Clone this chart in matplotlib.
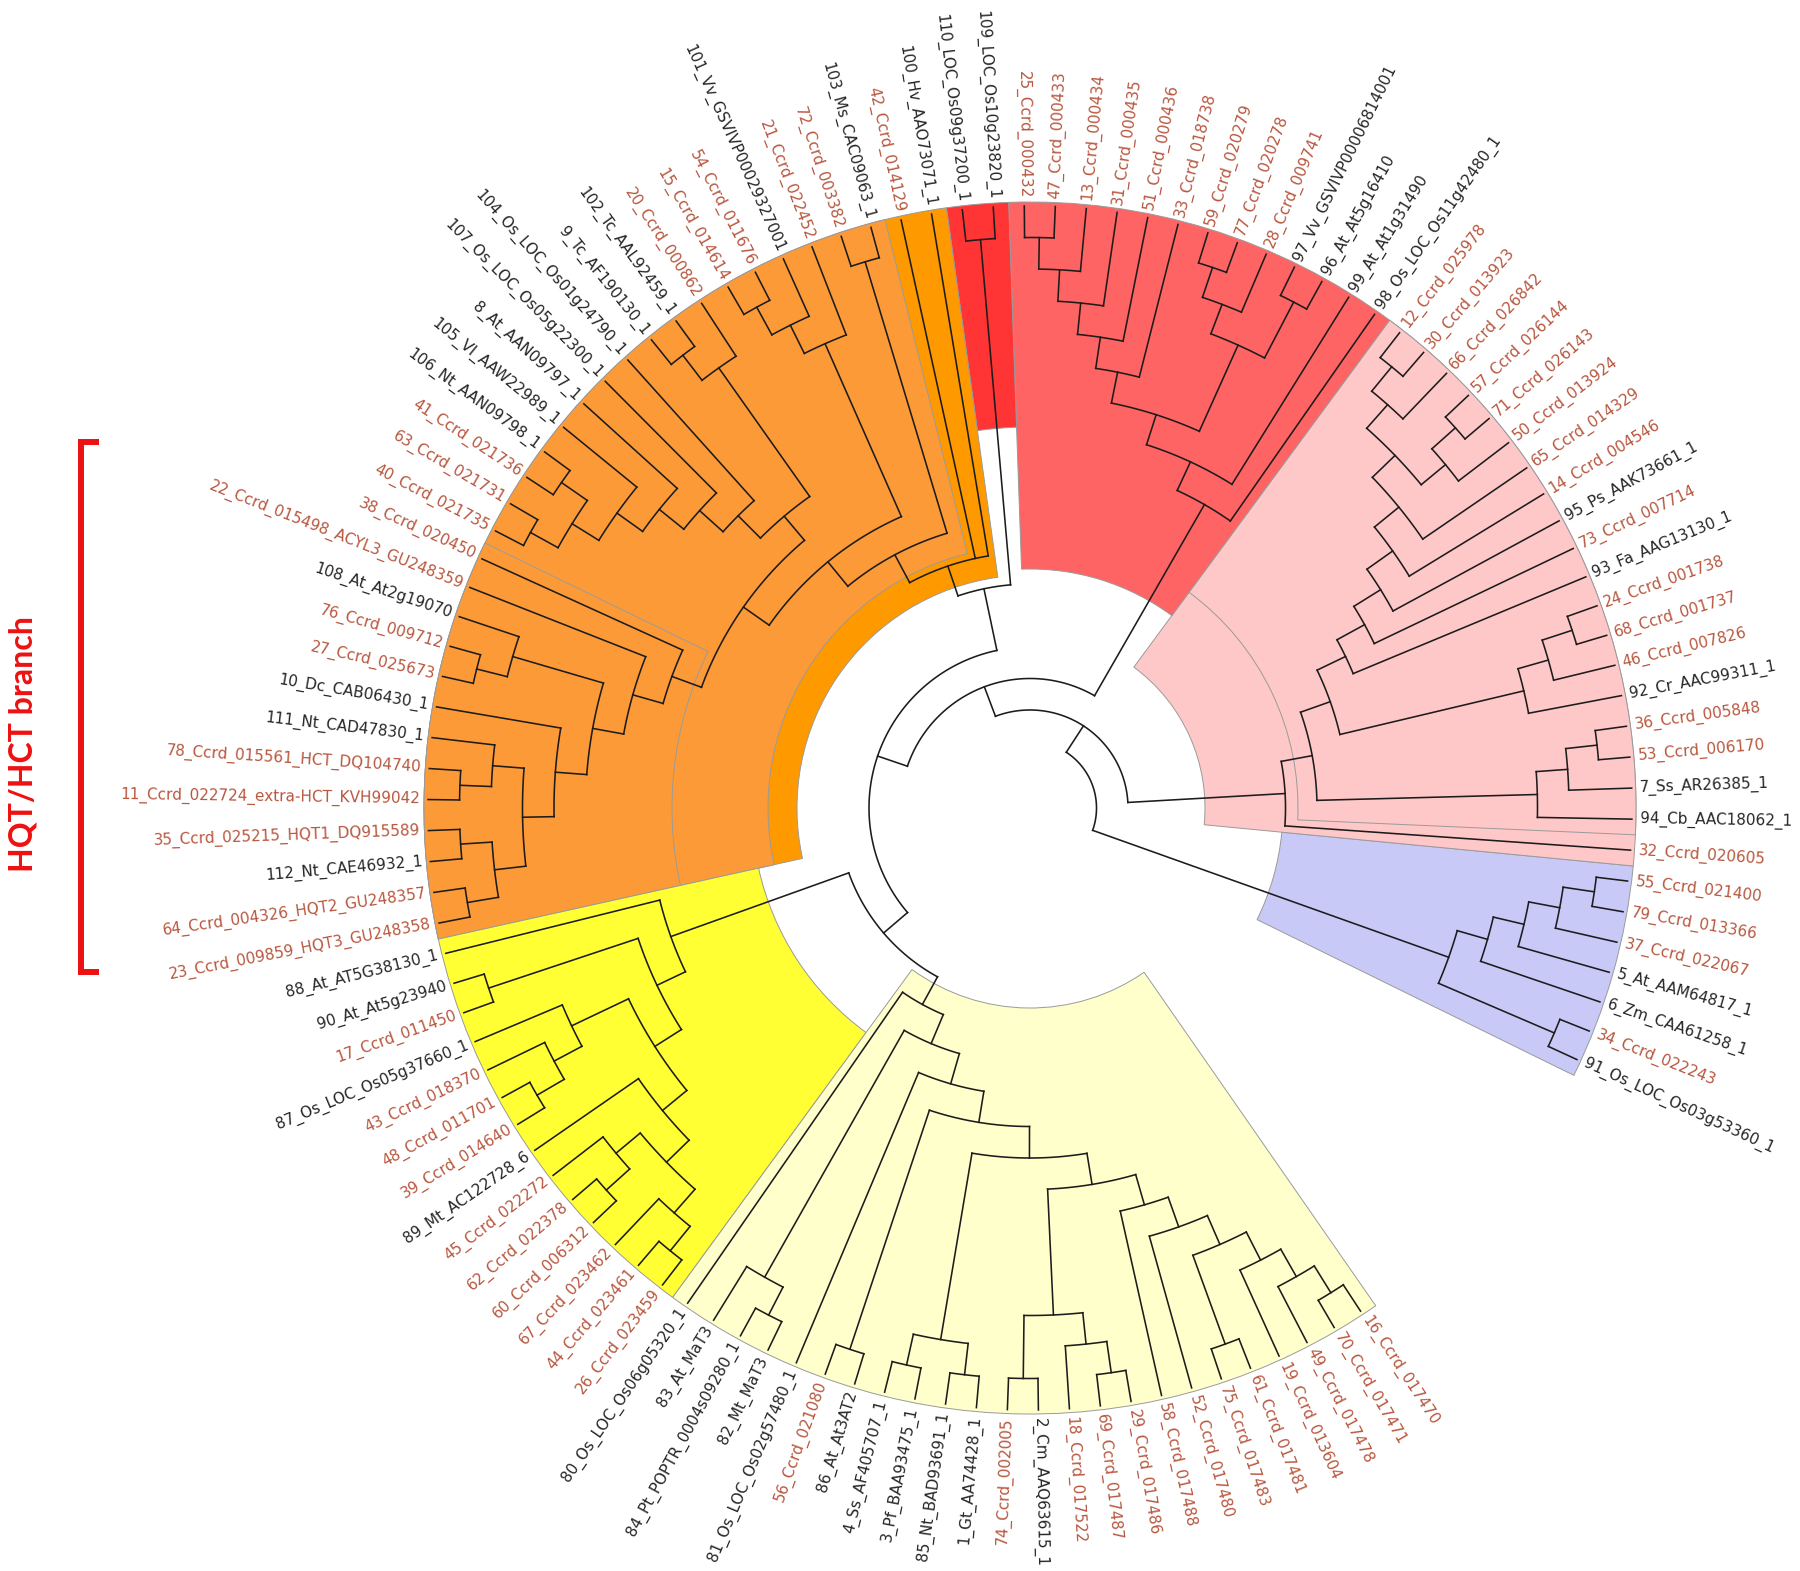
import numpy as np
import matplotlib
matplotlib.use("Agg")
import matplotlib.pyplot as plt
from matplotlib.collections import LineCollection

# ---------------- data ----------------
# leaf labels in angular order (counter-clockwise, starting at the lower right)
BLUE_LEAVES = ["91_Os_LOC_Os03g53360_1", "34_Ccrd_022243", "6_Zm_CAA61258_1", "5_At_AAM64817_1",
               "37_Ccrd_022067", "79_Ccrd_013366", "55_Ccrd_021400"]
PINK_LEAVES = ["32_Ccrd_020605", "94_Cb_AAC18062_1", "7_Ss_AR26385_1", "53_Ccrd_006170", "36_Ccrd_005848",
               "92_Cr_AAC99311_1", "46_Ccrd_007826", "68_Ccrd_001737", "24_Ccrd_001738", "93_Fa_AAG13130_1",
               "73_Ccrd_007714", "95_Ps_AAK73661_1", "14_Ccrd_004546", "65_Ccrd_014329", "50_Ccrd_013924",
               "71_Ccrd_026143", "57_Ccrd_026144", "66_Ccrd_026842", "30_Ccrd_013923", "12_Ccrd_025978"]
RED_LEAVES = ["98_Os_LOC_Os11g42480_1", "99_At_At1g31490", "96_At_At5g16410", "97_Vv_GSVIVP00006814001",
              "28_Ccrd_009741", "77_Ccrd_020278", "59_Ccrd_020279", "33_Ccrd_018738", "51_Ccrd_000436",
              "31_Ccrd_000435", "13_Ccrd_000434", "47_Ccrd_000433", "25_Ccrd_000432"]
RED2_LEAVES = ["109_LOC_Os10g23820_1", "110_LOC_Os09g37200_1"]
ORANGE_LEAVES = ["100_Hv_AAO73071_1", "42_Ccrd_014129", "103_Ms_CAC09063_1", "72_Ccrd_003382",
                 "21_Ccrd_022452", "101_Vv_GSVIVP00029327001", "54_Ccrd_011676", "15_Ccrd_014614",
                 "20_Ccrd_000862", "102_Tc_AAL92459_1", "9_Tc_AF190130_1", "104_Os_LOC_Os01g24790_1",
                 "107_Os_LOC_Os05g22300_1", "8_At_AAN09797_1", "105_Vl_AAW22989_1", "106_Nt_AAN09798_1",
                 "41_Ccrd_021736", "63_Ccrd_021731", "40_Ccrd_021735", "38_Ccrd_020450",
                 "22_Ccrd_015498_ACYL3_GU248359", "108_At_At2g19070", "76_Ccrd_009712", "27_Ccrd_025673",
                 "10_Dc_CAB06430_1", "111_Nt_CAD47830_1", "78_Ccrd_015561_HCT_DQ104740",
                 "11_Ccrd_022724_extra-HCT_KVH99042", "35_Ccrd_025215_HQT1_DQ915589", "112_Nt_CAE46932_1",
                 "64_Ccrd_004326_HQT2_GU248357", "23_Ccrd_009859_HQT3_GU248358"]
YELLOW_LEAVES = ["88_At_AT5G38130_1", "90_At_At5g23940", "17_Ccrd_011450", "87_Os_LOC_Os05g37660_1",
                 "43_Ccrd_018370", "48_Ccrd_011701", "39_Ccrd_014640", "89_Mt_AC122728_6", "45_Ccrd_022272",
                 "62_Ccrd_022378", "60_Ccrd_006312", "67_Ccrd_023462", "44_Ccrd_023461", "26_Ccrd_023459"]
LIGHT_LEAVES = ["80_Os_LOC_Os06g05320_1", "83_At_MaT3", "84_Pt_POPTR_0004s09280_1", "82_Mt_MaT3",
                "81_Os_LOC_Os02g57480_1", "56_Ccrd_021080", "86_At_At3AT2", "4_Ss_AF405707_1",
                "3_Pf_BAA93475_1", "85_Nt_BAD93691_1", "1_Gt_AA74428_1", "74_Ccrd_002005",
                "2_Cm_AAQ63615_1", "18_Ccrd_017522", "69_Ccrd_017487", "29_Ccrd_017486", "58_Ccrd_017488",
                "52_Ccrd_017480", "75_Ccrd_017483", "61_Ccrd_017481", "19_Ccrd_013604", "49_Ccrd_017478",
                "70_Ccrd_017471", "16_Ccrd_017470"]

# topologies (leaf numbers), built from named sub-clades
BLUE = ((91, 34), (6, (5, (37, (79, 55)))))

PK_TOP = ((50, (71, 57)), (66, (30, 12)))
PK_LADDER = (93, (73, (95, (14, (65, PK_TOP)))))
PK_B = (92, (46, (68, 24)))
PK_A = (94, (7, (53, 36)))
PINK = (32, (PK_A, (PK_B, PK_LADDER)))

RD_L = (33, (51, (31, (13, (47, 25)))))
RD_R = ((96, 97), (28, (77, 59)))
RED = (98, (99, (RD_R, RD_L)))
RED2 = (109, 110)

OR_HQT = ((111, (78, 11)), ((35, 112), (64, 23)))
OR_LOW = (38, (22, ((108, (76, 27)), (10, OR_HQT))))
OR_MID = ((20, (102, 9)), (104, (107, (8, (105, ((106, 41), (63, 40)))))))
OR_UP = (21, (101, (54, 15)))
OR_C = ((103, 72), (OR_UP, (OR_MID, OR_LOW)))
ORANGE = (100, 42, OR_C)

YW_A = (87, (43, (48, 39)))
YW_B = (89, ((45, (62, 60)), (67, (44, 26))))
YELLOW = (88, ((90, 17), (YW_A, YW_B)))

LY_TIP = (58, (52, ((75, 61), (19, (49, (70, 16))))))
LY_K = ((74, 2), (18, (69, 29)))
LY_MID = (((4, 3), (85, 1)), (LY_K, LY_TIP))
LIGHT = (80, ((83, (84, 82)), (81, ((56, 86), LY_MID))))

TREE = (BLUE, (PINK, (RED, ((RED2, ORANGE), (YELLOW, LIGHT)))))

# clade highlights: (first leaf, last leaf, colour, inner radius in px)
HIGHLIGHTS = [
    (91, 55, "#c9c9f8", 253),
    (32, 12, "#ffc8c8", 175),
    (94, 12, "#ffc8c8", 268),
    (98, 25, "#ff6464", 239),
    (109, 110, "#ff3434", 381),
    (100, 23, "#ff9900", 233),
    (103, 23, "#fd9a38", 262),
    (38, 23, "#fd9a38", 358),
    (88, 26, "#ffff33", 278),
    (80, 16, "#ffffcc", 200),
]

# ---------------- layout ----------------
LEAVES = BLUE_LEAVES + PINK_LEAVES + RED_LEAVES + RED2_LEAVES + ORANGE_LEAVES + YELLOW_LEAVES + LIGHT_LEAVES
IDX = {int(l.split("_")[0]): i for i, l in enumerate(LEAVES)}

W, H, DPI = 1800, 1571, 100
CX, CY = 1030, 808          # centre in pixels from top-left
RMAX = 620
R_TIP = 602
STEP = 31.5
HL_OUT = 606
GAP = 8
THETA0 = np.radians(-24.7)
DTH = np.radians(2.955)


def theta_of(i):
    return THETA0 + i * DTH


def height(node):
    if isinstance(node, int):
        return 0
    return 1 + max(height(c) for c in node)


def inorder(node, out):
    if isinstance(node, int):
        out.append(node)
    else:
        for c in node:
            inorder(c, out)
    return out


order_check = inorder(TREE, [])
assert order_check == [int(l.split("_")[0]) for l in LEAVES], "leaf order mismatch"

segs = []


def layout(node):
    if isinstance(node, int):
        return theta_of(IDX[node]), R_TIP
    kids = [layout(c) for c in node]
    r = R_TIP - STEP * height(node)
    t0, t1 = kids[0][0], kids[-1][0]
    ts = np.linspace(t0, t1, max(8, int(abs(t1 - t0) * 120)))
    segs.append(np.column_stack([ts, np.full_like(ts, r)]))
    for tc, rc in kids:
        segs.append(np.array([[tc, r], [tc, rc]]))
    return 0.5 * (t0 + t1), r


layout(TREE)

# ---------------- draw ----------------
fig = plt.figure(figsize=(W / DPI, H / DPI), dpi=DPI)
fig.patch.set_facecolor("white")
ax = fig.add_axes([(CX - RMAX) / W, (H - CY - RMAX) / H, 2 * RMAX / W, 2 * RMAX / H], projection="polar")
ax.set_ylim(0, RMAX)
ax.axis("off")

for a, b, col, rin in HIGHLIGHTS:
    i0, i1 = IDX[a], IDX[b]
    t0 = theta_of(i0) - DTH / 2
    t1 = theta_of(i1) + DTH / 2
    ax.bar(0.5 * (t0 + t1), HL_OUT - rin, width=t1 - t0, bottom=rin, color=col,
           edgecolor="#9a9a9a", linewidth=0.7, align="center", zorder=1)

lc = LineCollection(segs, colors="#1c1c1c", linewidths=1.15, zorder=3, capstyle="projecting")
ax.add_collection(lc)

for i, lab in enumerate(LEAVES):
    th = theta_of(i)
    deg = np.degrees(th) % 360
    if 90 < deg < 270:
        rot, ha = deg - 180, "right"
    else:
        rot, ha = (deg if deg <= 90 else deg - 360), "left"
    col = "#b8573f" if "Ccrd" in lab else "#262626"
    ax.text(th, R_TIP + GAP, lab, rotation=rot, rotation_mode="anchor", ha=ha, va="center",
            fontsize=11, color=col, clip_on=False, zorder=4)

# bracket and caption on an overlay in pixel units
ov = fig.add_axes([0, 0, 1, 1])
ov.set_xlim(0, W)
ov.set_ylim(H, 0)
ov.axis("off")
ov.patch.set_alpha(0)
ov.plot([99, 81, 81, 99], [442, 442, 972, 972], color="#ee1111", lw=4.3, solid_capstyle="butt",
        solid_joinstyle="miter")
ov.text(23, 744, "HQT/HCT branch", rotation=90, ha="center", va="center", color="#ee1111",
        fontsize=23, fontweight="bold", family=["Lato", "DejaVu Sans"])

fig.savefig("out.png", dpi=DPI)
